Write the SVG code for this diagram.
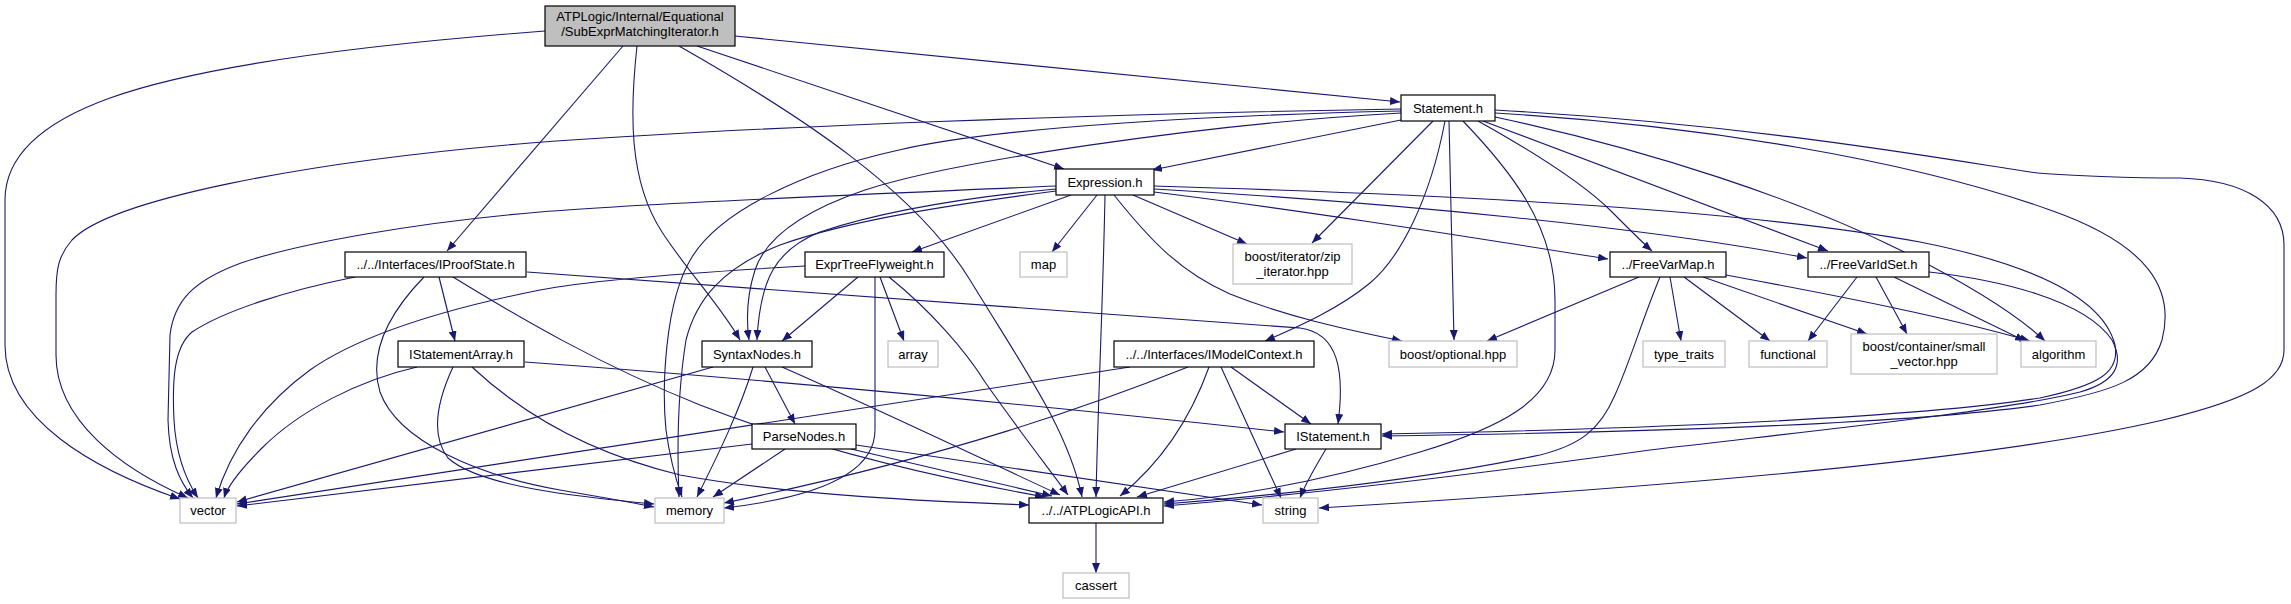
<svg xmlns="http://www.w3.org/2000/svg" width="2291" height="604" viewBox="0 0 2291 604">
<style>
.e{fill:none;stroke:#191970;stroke-width:1.1;marker-end:url(#a)}
.n rect{fill:#fff;stroke:#000;stroke-width:1.2}
.l rect{fill:#fff;stroke:#bfbfbf;stroke-width:1.2}
.r rect{fill:#bfbfbf;stroke:#000;stroke-width:1.2}
text{font-family:"Liberation Sans",Arial,sans-serif;font-size:13px;fill:#000;text-anchor:middle}
</style>
<defs>
<marker id="a" markerWidth="10" markerHeight="8" refX="10" refY="4" orient="auto" markerUnits="userSpaceOnUse" viewBox="0 0 10 8"><path d="M0,0 L10,4 L0,8 z" fill="#191970"/></marker>
</defs>
<rect width="2291" height="604" fill="#fff"/>
<g id="edges">
<path class="e" d="M545,31 C 400,42 210,62 110,98 C 35,125 5,160 5,200 L 5,345 C 5,420 95,470 180,499"/>
<path class="e" d="M623,46 L 447,251"/>
<path class="e" d="M637,46 C 630,110 628,180 662,232 C 688,272 720,305 740,340"/>
<path class="e" d="M679,46 C 800,115 915,190 970,280 C 1025,370 1068,430 1082,497"/>
<path class="e" d="M697,46 L 1064,169"/>
<path class="e" d="M735,36 L 1400,102"/>
<path class="e" d="M1401,120 L 1152,170"/>
<path class="e" d="M1401,109 C 1100,114 760,126 530,143 C 300,162 110,200 72,240 C 58,256 56,270 56,295 L 56,355 C 56,420 120,468 188,498"/>
<path class="e" d="M1401,111 C 1230,115 1000,126 899,150 C 800,172 720,212 692,257 C 664,302 662,390 666,430 C 670,460 676,480 682,497"/>
<path class="e" d="M1401,113 C 1200,124 950,162 865,190 C 800,212 765,240 755,270 C 747,295 746,318 749,340"/>
<path class="e" d="M1433,121 L 1312,243"/>
<path class="e" d="M1445,121 C 1430,200 1400,258 1370,283 C 1340,308 1300,326 1265,341"/>
<path class="e" d="M1449,121 L 1454,340"/>
<path class="e" d="M1463,121 C 1510,170 1555,225 1555,300 L 1555,350 C 1555,400 1500,428 1420,452 C 1320,482 1230,497 1164,502"/>
<path class="e" d="M1478,121 C 1530,150 1585,185 1612,212 C 1632,232 1645,245 1652,251"/>
<path class="e" d="M1483,121 L 1828,251"/>
<path class="e" d="M1495,117 C 1650,150 1800,200 1900,250 C 1960,280 2012,310 2045,341"/>
<path class="e" d="M1495,113 C 1700,125 1910,160 2050,210 C 2150,245 2175,290 2162,340 C 2150,380 2110,392 2040,405 C 1900,425 1600,433 1382,436"/>
<path class="e" d="M1495,110 C 1750,124 1950,160 2030,172 C 2060,176 2140,178 2180,178 C 2245,180 2284,205 2284,245 L 2284,350 C 2284,378 2255,398 2163,420 C 2000,458 1700,485 1319,508"/>
<path class="e" d="M1056,186 C 900,193 660,202 540,212 C 420,222 300,243 241,263 C 192,281 174,302 170,335 L 168,420 C 169,460 180,482 193,498"/>
<path class="e" d="M1056,189 C 960,198 880,212 820,232 C 775,250 760,280 757,340"/>
<path class="e" d="M1056,191 C 950,205 850,220 780,245 C 722,268 696,300 686,340 C 678,390 677,450 679,497"/>
<path class="e" d="M1071,195 L 912,252"/>
<path class="e" d="M1097,195 L 1052,252"/>
<path class="e" d="M1105,195 C 1103,300 1098,400 1096,497"/>
<path class="e" d="M1133,195 L 1247,244"/>
<path class="e" d="M1114,195 C 1150,240 1180,272 1230,294 C 1290,318 1350,330 1402,341"/>
<path class="e" d="M1154,192 C 1300,210 1450,234 1608,259"/>
<path class="e" d="M1154,189 C 1400,203 1650,228 1807,258"/>
<path class="e" d="M1154,186 C 1420,194 1720,206 1920,242 C 2050,268 2105,305 2115,345 C 2120,372 2100,385 2040,398 C 1900,420 1600,430 1382,434"/>
<path class="e" d="M355,277 C 290,290 225,310 192,332 C 174,347 172,380 174,420 C 176,456 186,480 198,498"/>
<path class="e" d="M439,277 L 455,341"/>
<path class="e" d="M424,277 C 390,312 368,352 380,392 C 398,442 480,476 560,490 C 600,497 630,502 654,507"/>
<path class="e" d="M453,277 C 520,318 600,365 700,405 C 820,452 950,480 1045,497"/>
<path class="e" d="M527,272 C 700,285 1000,308 1300,328 C 1338,333 1345,370 1338,424"/>
<path class="e" d="M417,367 C 360,380 300,410 262,448 C 240,470 228,485 224,498"/>
<path class="e" d="M453,367 C 440,395 428,432 448,458 C 480,487 580,497 654,504"/>
<path class="e" d="M472,367 C 520,412 585,452 680,475 C 800,497 950,502 1029,505"/>
<path class="e" d="M525,362 C 800,382 1100,412 1284,432"/>
<path class="e" d="M713,367 L 237,502"/>
<path class="e" d="M753,367 C 740,410 718,455 697,497"/>
<path class="e" d="M765,367 L 795,424"/>
<path class="e" d="M782,367 C 880,410 980,458 1060,495"/>
<path class="e" d="M752,444 L 237,506"/>
<path class="e" d="M785,449 L 713,497"/>
<path class="e" d="M851,449 L 1052,496"/>
<path class="e" d="M856,445 L 1262,505"/>
<path class="e" d="M805,266 C 700,272 590,280 540,290 C 440,310 360,335 310,370 C 262,405 230,450 216,498"/>
<path class="e" d="M858,277 L 782,341"/>
<path class="e" d="M880,277 L 904,341"/>
<path class="e" d="M875,277 L 875,430 C 875,472 820,497 724,508"/>
<path class="e" d="M889,277 C 930,310 965,350 985,382 C 1020,432 1050,470 1068,495"/>
<path class="e" d="M1130,367 L 237,504"/>
<path class="e" d="M1188,367 C 1100,402 950,457 724,503"/>
<path class="e" d="M1209,367 C 1190,420 1162,462 1120,496"/>
<path class="e" d="M1231,367 L 1311,424"/>
<path class="e" d="M1221,367 L 1281,498"/>
<path class="e" d="M1296,449 L 1137,497"/>
<path class="e" d="M1326,449 C 1316,466 1306,482 1300,498"/>
<path class="e" d="M1639,277 L 1487,341"/>
<path class="e" d="M1660,277 C 1642,320 1630,362 1615,395 C 1600,430 1580,445 1540,455 C 1420,480 1280,495 1164,504"/>
<path class="e" d="M1670,277 L 1681,341"/>
<path class="e" d="M1684,277 L 1770,341"/>
<path class="e" d="M1703,277 L 1867,334"/>
<path class="e" d="M1726,275 C 1850,298 1950,318 2030,341"/>
<path class="e" d="M1857,277 L 1808,341"/>
<path class="e" d="M1876,277 L 1907,334"/>
<path class="e" d="M1894,277 L 2025,341"/>
<path class="e" d="M1929,272 C 2000,280 2085,300 2112,340 C 2125,365 2115,382 2080,392 C 2000,412 1800,432 1650,450 C 1450,478 1300,495 1164,506"/>
<path class="e" d="M1096,523 L 1096,573"/>
</g>
<g id="root" class="r"><rect x="545" y="6" width="190" height="40"/><text x="640" y="21">ATPLogic/Internal/Equational</text><text x="640" y="36">/SubExprMatchingIterator.h</text></g>
<g id="statement" class="n"><rect x="1401" y="95" width="94" height="26"/><text x="1448" y="112.5">Statement.h</text></g>
<g id="expression" class="n"><rect x="1056" y="169" width="98" height="26"/><text x="1105" y="186.5">Expression.h</text></g>
<g id="iproofstate" class="n"><rect x="345" y="252" width="181" height="25"/><text x="435.5" y="269">../../Interfaces/IProofState.h</text></g>
<g id="exprtreeflyweight" class="n"><rect x="805" y="252" width="139" height="25"/><text x="874.5" y="269">ExprTreeFlyweight.h</text></g>
<g id="map" class="l"><rect x="1020" y="252" width="47" height="25"/><text x="1043.5" y="269">map</text></g>
<g id="zip" class="l"><rect x="1233" y="244" width="119" height="40"/><text x="1292.5" y="261">boost/iterator/zip</text><text x="1292.5" y="276">_iterator.hpp</text></g>
<g id="freevarmap" class="n"><rect x="1610" y="252" width="116" height="25"/><text x="1668" y="269">../FreeVarMap.h</text></g>
<g id="freevaridset" class="n"><rect x="1808" y="252" width="121" height="25"/><text x="1868.5" y="269">../FreeVarIdSet.h</text></g>
<g id="istatementarray" class="n"><rect x="398" y="341" width="126" height="26"/><text x="461" y="358.5">IStatementArray.h</text></g>
<g id="syntaxnodes" class="n"><rect x="702" y="341" width="110" height="26"/><text x="757" y="358.5">SyntaxNodes.h</text></g>
<g id="array" class="l"><rect x="888" y="341" width="50" height="26"/><text x="913" y="358.5">array</text></g>
<g id="imodelcontext" class="n"><rect x="1114" y="341" width="200" height="26"/><text x="1214" y="358.5">../../Interfaces/IModelContext.h</text></g>
<g id="optional" class="l"><rect x="1389" y="341" width="128" height="26"/><text x="1453" y="358.5">boost/optional.hpp</text></g>
<g id="type_traits" class="l"><rect x="1643" y="341" width="82" height="26"/><text x="1684" y="358.5">type_traits</text></g>
<g id="functional" class="l"><rect x="1749" y="341" width="78" height="26"/><text x="1788" y="358.5">functional</text></g>
<g id="small_vector" class="l"><rect x="1851" y="334" width="146" height="40"/><text x="1924" y="351">boost/container/small</text><text x="1924" y="366">_vector.hpp</text></g>
<g id="algorithm" class="l"><rect x="2021" y="341" width="75" height="26"/><text x="2058.5" y="358.5">algorithm</text></g>
<g id="parsenodes" class="n"><rect x="752" y="424" width="104" height="25"/><text x="804" y="441">ParseNodes.h</text></g>
<g id="istatement" class="n"><rect x="1285" y="424" width="96" height="25"/><text x="1333" y="441">IStatement.h</text></g>
<g id="vector" class="l"><rect x="180" y="498" width="56" height="25"/><text x="208" y="515">vector</text></g>
<g id="memory" class="l"><rect x="655" y="498" width="69" height="25"/><text x="689.5" y="515">memory</text></g>
<g id="atplogicapi" class="n"><rect x="1029" y="498" width="134" height="25"/><text x="1096" y="515">../../ATPLogicAPI.h</text></g>
<g id="string" class="l"><rect x="1263" y="498" width="55" height="25"/><text x="1290.5" y="515">string</text></g>
<g id="cassert" class="l"><rect x="1063" y="573" width="66" height="25"/><text x="1096" y="590">cassert</text></g>
</svg>
